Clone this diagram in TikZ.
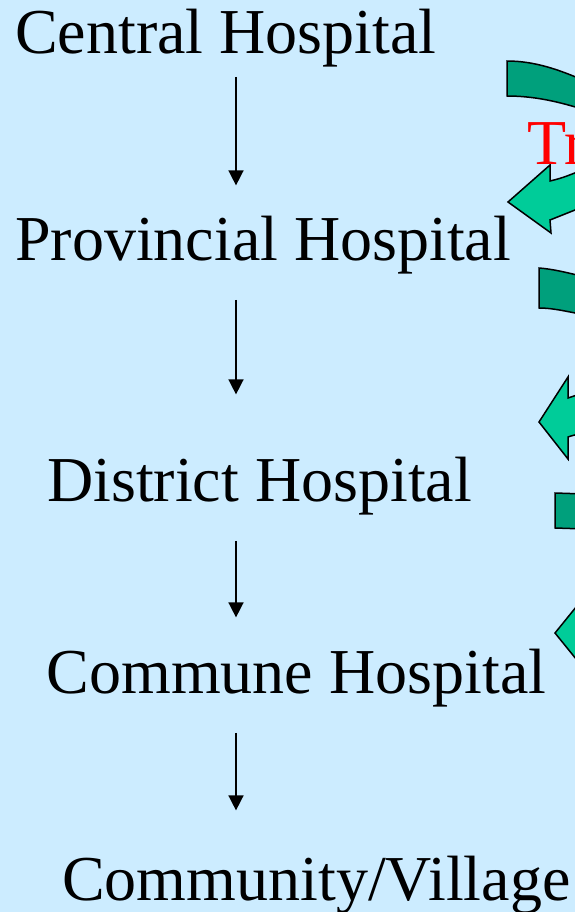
\documentclass[tikz,border=0pt]{standalone}
\usepackage{fontspec}
\setmainfont{Liberation Serif}
\usetikzlibrary{arrows.meta}
\definecolor{slidebg}{HTML}{CCECFF}
\definecolor{bandback}{HTML}{00A07C}
\definecolor{bandfront}{HTML}{00CC99}
\tikzset{
	levelstyle/.style={anchor=base west,inner sep=0pt,font=\rmfamily\fontsize{64bp}{72bp}\selectfont},
	flowstyle/.style={line width=1.5bp,-{Triangle[width=15bp,length=15bp]}},
	backstyle/.style={draw=black,line width=1.5bp,fill=bandback},
	frontstyle/.style={draw=black,line width=1.5bp,fill=bandfront}
}
\begin{document}
\begin{tikzpicture}[x=1bp,y=-1bp]
		\useasboundingbox (0,0) rectangle (575,912);
		\clip (0,0) rectangle (575,912);
		\fill[slidebg] (0,0) rectangle (575,912);
		% levels
		\node[levelstyle] (central) at (15,53) {Central Hospital};
		\node[levelstyle] (provincial) at (15,260) {Provincial Hospital};
		\node[levelstyle] (district) at (47,501) {District Hospital};
		\node[levelstyle] (commune) at (46.5,693) {Commune Hospital};
		\node[levelstyle] (village) at (62,900) {Community/Village};
		\coordinate (axis) at (236,0);
		\draw[flowstyle,shorten <=10bp,shorten >=30bp] (central.south -| axis)--(provincial.north -| axis);
		\draw[flowstyle,shorten <=26bp,shorten >=62bp] (provincial.south -| axis)--(district.north -| axis);
		\draw[flowstyle,shorten <=26bp,shorten >=31bp] (district.south -| axis)--(commune.north -| axis);
		\draw[flowstyle,shorten <=26bp,shorten >=45bp] (commune.south -| axis)--(village.north -| axis);
		% curved arrows on the right
		\draw[backstyle] (507,61) .. controls (535,61) and (560,70) .. (585,81)
			-- (585,110) .. controls (560,102) and (535,96) .. (507,96) -- cycle;
		\draw[frontstyle] (508,202) -- (550,165) -- (550,181) .. controls (562,178) .. (585,169)
			-- (585,206) .. controls (565,214) .. (550,220) -- (551,233) -- cycle;
		\draw[backstyle] (539,268) .. controls (552,269) and (565,272) .. (585,277)
			-- (585,315) .. controls (565,311) and (552,308) .. (539,308) -- cycle;
		\draw[frontstyle] (539,422) -- (568,377) -- (568,398) .. controls (574,396) .. (585,392)
			-- (585,433) .. controls (574,435) .. (568,437) -- (568,459) -- cycle;
		\draw[backstyle] (555,493) -- (585,494) -- (585,529) -- (555,528) -- cycle;
		\draw[frontstyle] (555,633) -- (585,596) -- (585,670) -- cycle;
		\node[levelstyle,text=red] (transfer) at (527,164) {Tr};
\end{tikzpicture}
\end{document}
